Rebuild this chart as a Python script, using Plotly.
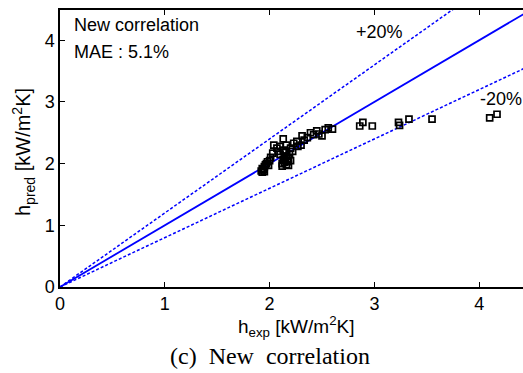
import plotly.graph_objects as go

# Data
h_exp = [1.92, 1.93, 1.94, 1.95, 1.96, 1.97, 1.93, 1.98, 2.00, 1.95, 1.99, 2.01,
         2.12, 2.14, 2.15, 2.16, 2.17, 2.18, 2.14, 2.20, 2.13, 2.16, 2.12, 2.18,
         2.10, 2.15, 2.19, 2.13,
         2.03, 2.04, 2.07, 2.08, 2.10, 2.13, 2.16, 2.20, 2.23, 2.26, 2.30, 2.31,
         2.33, 2.36, 2.39, 2.42, 2.45, 2.47, 2.50, 2.53, 2.56, 2.60, 2.22, 2.27,
         2.86, 2.89, 2.98, 3.23, 3.24, 3.33, 3.55, 4.10, 4.17]
h_pred = [1.88, 1.92, 1.90, 1.95, 1.98, 2.00, 1.86, 2.03, 2.05, 1.87, 1.97, 2.10,
          2.00, 2.02, 2.05, 1.98, 2.03, 2.08, 2.10, 2.05, 2.06, 2.12, 1.96, 1.97,
          2.15, 2.18, 2.15, 2.22,
          2.17, 2.30, 2.25, 2.20, 2.28, 2.40, 2.30, 2.25, 2.33, 2.36, 2.30, 2.45,
          2.38, 2.42, 2.50, 2.47, 2.53, 2.48, 2.45, 2.55, 2.58, 2.56, 2.20, 2.28,
          2.61, 2.67, 2.61, 2.67, 2.62, 2.72, 2.72, 2.74, 2.80]

ref_x = [0, 5]
band = 0.2

x_range = [0, 4.418]
y_range = [0, 4.49]
tick_vals = [0, 1, 2, 3, 4]
tick_text = ["0", "1", "2", "3", "4"]

blue = "#0000ff"
fig = go.Figure()
fig.add_trace(go.Scatter(x=ref_x, y=ref_x, mode="lines",
                         line=dict(color=blue, width=1.8), showlegend=False))
fig.add_trace(go.Scatter(x=ref_x, y=[v * (1 + band) for v in ref_x], mode="lines",
                         line=dict(color=blue, width=1.5, dash="3px,2px"), showlegend=False))
fig.add_trace(go.Scatter(x=ref_x, y=[v * (1 - band) for v in ref_x], mode="lines",
                         line=dict(color=blue, width=1.5, dash="3px,2px"), showlegend=False))
fig.add_trace(go.Scatter(x=h_exp, y=h_pred, mode="markers",
                         marker=dict(symbol="square-open", size=6, color="black",
                                     line=dict(width=1.7, color="black")),
                         showlegend=False))

font = dict(family="Liberation Sans, Arial", size=18, color="black")
tfont = dict(family="Liberation Sans, Arial", size=19, color="black")
yfont = dict(family="Liberation Sans, Arial", size=20, color="black")
fig.update_layout(
    width=523, height=373,
    margin=dict(l=60, r=0, t=10, b=86),
    paper_bgcolor="white", plot_bgcolor="white",
    font=font,
    xaxis=dict(range=x_range, tickvals=tick_vals, ticktext=tick_text,
               showline=True, linecolor="black", linewidth=1.5, mirror="ticks",
               ticks="inside", ticklen=5, tickcolor="black", showgrid=False,
               zeroline=False, tickfont=font),
    yaxis=dict(range=y_range, tickvals=tick_vals, ticktext=tick_text,
               showline=True, linecolor="black", linewidth=1.5,
               ticks="inside", ticklen=5, tickcolor="black", showgrid=False,
               zeroline=False, tickfont=font),
    annotations=[
        dict(text="New correlation", xref="paper", yref="paper", x=0.026, y=0.99,
             xanchor="left", yanchor="top", showarrow=False, font=font),
        dict(text="MAE : 5.1%", xref="paper", yref="paper", x=0.026, y=0.89,
             xanchor="left", yanchor="top", showarrow=False, font=font),
        dict(text="+20%", xref="x", yref="y", x=2.81, y=4.13,
             xanchor="left", yanchor="middle", showarrow=False, font=font),
        dict(text="-20%", xref="x", yref="y", x=3.99, y=3.05,
             xanchor="left", yanchor="middle", showarrow=False, font=font),
        dict(text="h<sub>exp</sub> [kW/m<sup>2</sup>K]", xref="paper", yref="paper",
             x=(296 - 60) / 463, y=-(326 - 287) / 277, xanchor="center", yanchor="middle",
             showarrow=False, font=tfont),
        dict(text="h<sub>pred</sub> [kW/m<sup>2</sup>K]", xref="paper", yref="paper",
             x=-(60 - 23) / 463, y=(287 - 152) / 277, xanchor="center", yanchor="middle",
             textangle=-90, showarrow=False, font=yfont),
        dict(text="(c)&nbsp;&nbsp;New&nbsp;&nbsp;correlation", xref="paper", yref="paper",
             x=(270 - 60) / 463, y=-(356 - 287) / 277, xanchor="center", yanchor="middle",
             showarrow=False, font=dict(family="Liberation Serif, Times New Roman", size=24, color="black")),
    ],
)
fig.write_html("out.html")
